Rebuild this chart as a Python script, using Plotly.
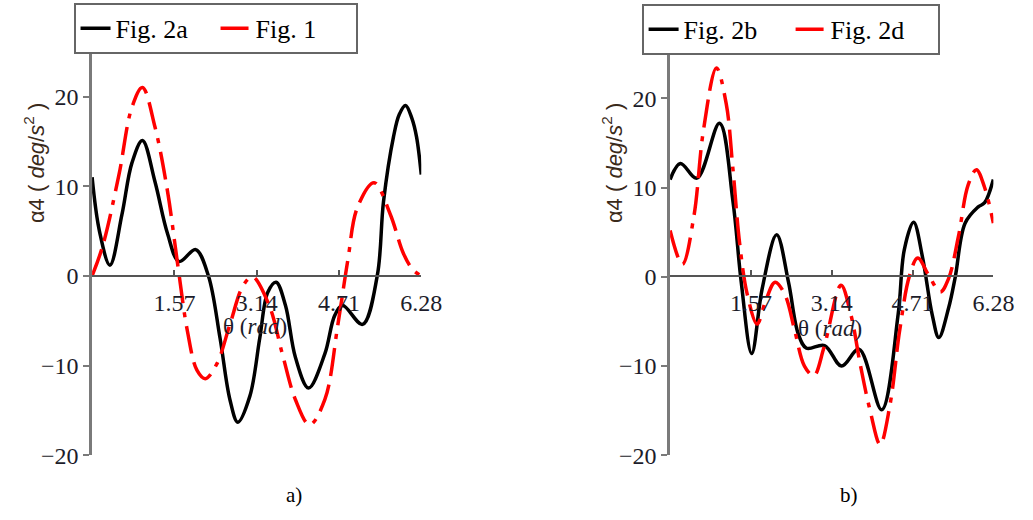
import plotly.graph_objects as go

# ---- data ----
theta_2a = [0.0, 0.14, 0.34, 0.57, 0.76, 0.96, 1.2, 1.44, 1.66, 1.975, 2.22, 2.44, 2.63, 2.78,
            3.01, 3.2, 3.35, 3.51, 3.69, 3.88, 4.13, 4.44, 4.63, 4.78, 5.16, 5.44, 5.56, 5.75,
            5.86, 5.98, 6.1, 6.19, 6.28]
fig_2a = [11.0, 5.0, 1.2, 6.85, 12.6, 15.1, 10.5, 4.7, 1.6, 2.93, 0.0, -6.9, -13.8, -16.3,
          -13.4, -6.9, -1.85, -0.7, -3.3, -9.1, -12.5, -8.7, -4.4, -3.3, -5.4, 0.0, 8.3, 15.5,
          18.0, 19.0, 17.6, 15.5, 11.3]

theta_1 = [0.0, 0.2, 0.51, 0.76, 0.96, 1.2, 1.44, 1.63, 1.82, 2.0, 2.16, 2.38, 2.63, 2.88,
           3.06, 3.38, 3.63, 3.88, 4.15, 4.44, 4.69, 4.88, 5.06, 5.38, 5.69, 5.94, 6.12, 6.28]
fig_1 = [0.0, 3.3, 11.2, 18.8, 21.0, 16.6, 9.4, 1.4, -6.2, -10.5, -11.45, -9.8, -5.4, -1.1,
         -0.1, -3.3, -8.7, -13.8, -16.6, -13.8, -5.4, 1.8, 7.6, 10.4, 6.85, 2.5, 0.7, 0.0]

theta_2b = [0.0, 0.2, 0.52, 0.96, 1.22, 1.38, 1.585, 1.79, 2.07, 2.3, 2.49, 2.65, 3.0, 3.33,
            3.67, 4.11, 4.43, 4.55, 4.73, 4.9, 5.09, 5.22, 5.41, 5.54, 5.73, 5.98, 6.11, 6.28]
fig_2b = [10.9, 12.7, 11.05, 17.2, 8.5, -0.5, -8.6, -1.3, 4.7, -0.6, -6.4, -8.0, -7.7, -10.0,
          -8.1, -14.9, -4.2, 3.05, 6.1, 2.3, -4.2, -6.8, -3.5, 0.0, 6.0, 7.8, 8.3, 10.9]

theta_2d = [0.0, 0.24, 0.46, 0.65, 0.9, 1.09, 1.22, 1.35, 1.5, 1.69, 1.85, 2.04, 2.23, 2.42,
            2.61, 2.79, 2.99, 3.32, 3.51, 3.7, 3.89, 4.08, 4.27, 4.46, 4.65, 4.81, 5.03, 5.25,
            5.41, 5.6, 5.79, 5.95, 6.11, 6.28]
fig_2d = [5.2, 1.4, 6.7, 16.5, 23.4, 19.4, 12.1, 3.8, -2.0, -5.3, -2.8, -0.6, -2.0, -6.0,
          -10.0, -11.1, -7.9, -0.95, -4.2, -10.0, -15.1, -18.8, -14.4, -6.0, 0.1, 2.1, 0.1, -1.7,
          -0.2, 4.5, 10.3, 12.0, 10.0, 6.0]

x_ticks = [1.57, 3.14, 4.71, 6.28]
y_ticks = [-20, -10, 0, 10, 20]
y_tick_text = ["\u221220", "\u221210", "0", "10", "20"]

SERIF = "Liberation Serif"
W, H = 1033, 520
DASH = "28px,9px,28px,9px,5px,9px"
TXT = "#1c1c2a"

fig = go.Figure()
fig.add_trace(go.Scatter(x=theta_2a, y=fig_2a, name="Fig. 2a", mode="lines",
                         line=dict(color="black", width=3.5, shape="spline", smoothing=1),
                         xaxis="x", yaxis="y", legend="legend"))
fig.add_trace(go.Scatter(x=theta_1, y=fig_1, name="Fig. 1", mode="lines",
                         line=dict(color="#ff0000", width=3.5, dash=DASH, shape="spline", smoothing=1),
                         xaxis="x", yaxis="y", legend="legend"))
fig.add_trace(go.Scatter(x=theta_2b, y=fig_2b, name="Fig. 2b", mode="lines",
                         line=dict(color="black", width=3.5, shape="spline", smoothing=1),
                         xaxis="x2", yaxis="y2", legend="legend2"))
fig.add_trace(go.Scatter(x=theta_2d, y=fig_2d, name="Fig. 2d", mode="lines",
                         line=dict(color="#ff0000", width=3.5, dash=DASH, shape="spline", smoothing=1),
                         xaxis="x2", yaxis="y2", legend="legend2"))

y0_pos = 1 - 283 / H
tickfont = dict(family=SERIF, size=24, color=TXT)

xcommon = dict(range=[0, 6.28], tickvals=x_ticks, ticktext=[f"{v:.2f}" for v in x_ticks],
               showline=True, linecolor="#555555", linewidth=1.5, ticks="inside", ticklen=5,
               tickcolor="#555555", tickwidth=1.5, showgrid=False, zeroline=False,
               tickfont=tickfont, anchor="free", position=y0_pos, ticklabelstandoff=6)
ycommon = dict(range=[-20, 25], tickvals=y_ticks, ticktext=y_tick_text,
               showline=True, linecolor="#7a7a7a", linewidth=2.5, ticks="outside", ticklen=6,
               tickcolor="#7a7a7a", tickwidth=2, showgrid=False, zeroline=False, tickfont=tickfont)

legfont = dict(family=SERIF, size=26, color="black")
fig.update_layout(
    width=W, height=H, margin=dict(l=0, r=0, t=0, b=0),
    paper_bgcolor="white", plot_bgcolor="white",
    xaxis=dict(domain=[94 / W, 430 / W], **xcommon),
    yaxis=dict(domain=[1 - 467 / H, 1 - 53 / H], anchor="x", **ycommon),
    xaxis2=dict(domain=[684 / W, 1014 / W], **xcommon),
    yaxis2=dict(domain=[1 - 467 / H, 1 - 55 / H], anchor="x2", **ycommon),
    legend=dict(orientation="h", x=220 / W, xanchor="center", y=1 - 3 / H, yanchor="top",
                bordercolor="#666666", borderwidth=2, bgcolor="white", entrywidth=95,
                font=legfont),
    legend2=dict(orientation="h", x=807 / W, xanchor="center", y=1 - 4 / H, yanchor="top",
                 bordercolor="#666666", borderwidth=2, bgcolor="white", entrywidth=102,
                 font=legfont),
    showlegend=True,
)

ytitle = "α4 ( <i>deg</i>/<i>s</i><sup>2</sup> )"
annots = [
    dict(text="θ (<i>rad</i>)", x=260 / W, y=1 - 335 / H, font=dict(family=SERIF, size=23, color=TXT)),
    dict(text="θ (<i>rad</i>)", x=847 / W, y=1 - 337 / H, font=dict(family=SERIF, size=23, color=TXT)),
    dict(text=ytitle, x=35 / W, y=1 - 167 / H, textangle=-90,
         font=dict(family="Liberation Sans", size=22, color="#3a2a1a")),
    dict(text=ytitle, x=625 / W, y=1 - 167 / H, textangle=-90,
         font=dict(family="Liberation Sans", size=22, color="#3a2a1a")),
    dict(text="a)", x=300 / W, y=1 - 508 / H, font=dict(family=SERIF, size=21, color="black")),
    dict(text="b)", x=867 / W, y=1 - 508 / H, font=dict(family=SERIF, size=21, color="black")),
]
for a in annots:
    fig.add_annotation(xref="paper", yref="paper", showarrow=False, xanchor="center",
                       yanchor="middle", **a)

fig.write_html("out.html")
